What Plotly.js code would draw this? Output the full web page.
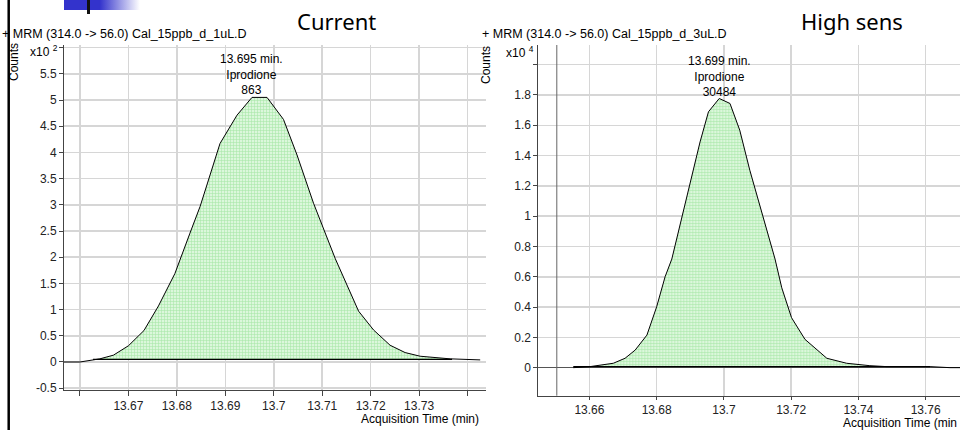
<!DOCTYPE html>
<html>
<head>
<meta charset="utf-8">
<script src="https://cdn.plot.ly/plotly-3.0.1.min.js"></script>
<style>html,body{margin:0;padding:0;background:#fff;}#chart{width:960px;height:430px;}</style>
</head>
<body>
<div id="chart"></div>
<script>
// ---- Data ----
// Left chromatogram ("Current"), counts in units of x10^2
var leftX = [13.6567, 13.6600, 13.6641, 13.6669, 13.6700, 13.6732, 13.6762, 13.6796, 13.6827, 13.6848, 13.6889, 13.6924, 13.6955, 13.6986, 13.7020, 13.7048, 13.7082, 13.7127, 13.7175, 13.7206, 13.7240, 13.7271, 13.7302, 13.7364, 13.7426];
var leftY = [0, 0, 0.06, 0.13, 0.31, 0.60, 1.07, 1.69, 2.46, 2.97, 4.17, 4.71, 5.05, 5.05, 4.63, 3.95, 3.03, 1.97, 0.97, 0.61, 0.32, 0.18, 0.11, 0.06, 0.04];
var leftBaseX = [13.6627, 13.7368];
var leftBaseY = 0.05;
// Right chromatogram ("High sens"), counts in units of x10^4
var rightX = [13.6552, 13.6602, 13.6671, 13.6706, 13.6736, 13.6771, 13.6800, 13.6825, 13.6845, 13.6875, 13.6929, 13.6954, 13.6986, 13.7018, 13.7047, 13.7077, 13.7117, 13.7152, 13.7172, 13.7201, 13.7241, 13.7306, 13.7365, 13.7434, 13.7484, 13.7613, 13.7672, 13.7702];
var rightY = [0, 0.007, 0.029, 0.062, 0.116, 0.215, 0.402, 0.600, 0.717, 0.996, 1.49, 1.689, 1.777, 1.744, 1.568, 1.303, 0.996, 0.717, 0.527, 0.330, 0.187, 0.062, 0.029, 0.013, 0.007, 0.007, 0, 0];
var rightBaseX = [13.6552, 13.7613];
var rightBaseY = 0.007;
var rightMarkerX = 13.6503;

// Tick values / labels
var leftXTicks = [13.66, 13.67, 13.68, 13.69, 13.70, 13.71, 13.72, 13.73, 13.74];
var leftXLabels = ['', '13.67', '13.68', '13.69', '13.7', '13.71', '13.72', '13.73', ''];
var leftYTicks = [-0.5, 0, 0.5, 1, 1.5, 2, 2.5, 3, 3.5, 4, 4.5, 5, 5.5, 6];
var leftYLabels = ['-0.5', '0', '0.5', '1', '1.5', '2', '2.5', '3', '3.5', '4', '4.5', '5', '5.5', ''];
var rightXTicks = [13.66, 13.68, 13.70, 13.72, 13.74, 13.76];
var rightXLabels = ['13.66', '13.68', '13.7', '13.72', '13.74', '13.76'];
var rightYTicks = [0, 0.2, 0.4, 0.6, 0.8, 1.0, 1.2, 1.4, 1.6, 1.8, 2.0];
var rightYLabels = ['0', '0.2', '0.4', '0.6', '0.8', '1', '1.2', '1.4', '1.6', '1.8', ''];

var leftHeader = '+ MRM (314.0 -> 56.0) Cal_15ppb_d_1uL.D';
var rightHeader = '+ MRM (314.0 -> 56.0) Cal_15ppb_d_3uL.D';
var leftTitle = 'Current';
var rightTitle = 'High sens';
var leftPeak = '13.695 min.<br>Iprodione<br>863';
var rightPeak = '13.699 min.<br>Iprodione<br>30484';
var xTitleLeft = 'Acquisition Time (min)';
var xTitleRight = 'Acquisition Time (min';

// ---- helpers ----
var W = 960, H = 430;
function px(x) { return x / W; }
function py(y) { return 1 - y / H; }
function fillPoly(xs, ys, bx, by) {
  var fx = [bx[0]], fy = [by];
  for (var i = 0; i < xs.length; i++) {
    if (xs[i] > bx[0] && xs[i] < bx[1]) { fx.push(xs[i]); fy.push(ys[i]); }
  }
  fx.push(bx[1]); fy.push(by);
  return {x: fx, y: fy};
}
var pat = {shape: '+', bgcolor: '#dbf7db', fgcolor: '#a9e6a9', size: 3, solidity: 0.35};
var lp = fillPoly(leftX, leftY, leftBaseX, leftBaseY);
var rp = fillPoly(rightX, rightY, rightBaseX, rightBaseY);

var traces = [
  {x: lp.x, y: lp.y, xaxis: 'x', yaxis: 'y', mode: 'none', fill: 'toself', fillcolor: '#dbf7db', fillpattern: pat, hoverinfo: 'skip', showlegend: false},
  {x: leftBaseX, y: [leftBaseY, leftBaseY], xaxis: 'x', yaxis: 'y', mode: 'lines', line: {color: '#000', width: 1.3}, showlegend: false},
  {x: leftX, y: leftY, xaxis: 'x', yaxis: 'y', mode: 'lines', line: {color: '#000', width: 1}, showlegend: false},
  {x: rp.x, y: rp.y, xaxis: 'x2', yaxis: 'y2', mode: 'none', fill: 'toself', fillcolor: '#dbf7db', fillpattern: pat, hoverinfo: 'skip', showlegend: false},
  {x: rightBaseX, y: [rightBaseY, rightBaseY], xaxis: 'x2', yaxis: 'y2', mode: 'lines', line: {color: '#000', width: 1.3}, showlegend: false},
  {x: rightX, y: rightY, xaxis: 'x2', yaxis: 'y2', mode: 'lines', line: {color: '#000', width: 1}, showlegend: false}
];

var tickFont = {family: 'Liberation Sans, Arial, sans-serif', size: 12, color: '#222'};
var axBase = {showline: true, linecolor: '#444', linewidth: 1, ticks: 'outside', ticklen: 4, tickcolor: '#444',
  showgrid: true, gridcolor: '#d6d6d6', gridwidth: 1.5, zeroline: false, tickfont: tickFont, fixedrange: true,
  tickmode: 'array', layer: 'below traces'};
function ax(o) { var r = {}; for (var k in axBase) r[k] = axBase[k]; for (var k2 in o) r[k2] = o[k2]; return r; }

var hdrFont = {family: 'Liberation Sans, Arial, sans-serif', size: 12.5, color: '#000'};
var titleFont = {family: 'Noto Sans, sans-serif', size: 22, color: '#000'};
var annFont = {family: 'Liberation Sans, Arial, sans-serif', size: 12, color: '#000'};

var layout = {
  width: W, height: H,
  margin: {l: 0, r: 0, t: 0, b: 0},
  paper_bgcolor: '#fff', plot_bgcolor: 'rgba(0,0,0,0)',
  showlegend: false,
  xaxis: ax({domain: [px(64), px(486)], range: [13.6567, 13.7438], tickvals: leftXTicks, ticktext: leftXLabels, anchor: 'y', ticklen: 5}),
  yaxis: ax({domain: [py(389.5), py(45)], range: [-0.525, 6.05], tickvals: leftYTicks, ticktext: leftYLabels, anchor: 'x'}),
  xaxis2: ax({domain: [px(538.3), 1], range: [13.6448, 13.7702], tickvals: rightXTicks, ticktext: rightXLabels, anchor: 'y2', ticklen: 3}),
  yaxis2: ax({domain: [py(395.7), py(45)], range: [-0.185, 2.13], tickvals: rightYTicks, ticktext: rightYLabels, anchor: 'x2', zeroline: true, zerolinecolor: '#555', zerolinewidth: 1}),
  shapes: [
    {type: 'line', xref: 'paper', yref: 'paper', x0: px(8.7), x1: px(8.7), y0: 0, y1: 1, line: {color: '#000', width: 2.5}},
    {type: 'rect', xref: 'paper', yref: 'paper', x0: px(87), x1: px(90), y0: py(14), y1: 1, fillcolor: '#111', line: {width: 0}, layer: 'above'},
    {type: 'line', xref: 'x2', yref: 'y2 domain', x0: rightMarkerX, x1: rightMarkerX, y0: 0, y1: 1, line: {color: '#666', width: 1}}
  ],
  images: [{
    source: 'data:image/svg+xml;charset=utf-8,' + encodeURIComponent("<svg xmlns='http://www.w3.org/2000/svg' width='76' height='10'><defs><linearGradient id='g' x1='0' y1='0' x2='1' y2='0'><stop offset='0.47' stop-color='#3333cc'/><stop offset='1' stop-color='#ffffff'/></linearGradient></defs><rect width='76' height='10' fill='url(#g)'/></svg>"),
    xref: 'paper', yref: 'paper', x: px(64), y: 1, sizex: px(76), sizey: 10 / H,
    xanchor: 'left', yanchor: 'top', sizing: 'stretch', layer: 'above'
  }],
  annotations: [
    {text: leftHeader, xref: 'paper', yref: 'paper', x: px(0), y: py(34), xanchor: 'left', yanchor: 'middle', showarrow: false, font: hdrFont},
    {text: rightHeader, xref: 'paper', yref: 'paper', x: px(480), y: py(34), xanchor: 'left', yanchor: 'middle', showarrow: false, font: hdrFont},
    {text: leftTitle, xref: 'paper', yref: 'paper', x: px(336), y: py(21), xanchor: 'center', yanchor: 'middle', showarrow: false, font: titleFont},
    {text: rightTitle, xref: 'paper', yref: 'paper', x: px(852), y: py(21), xanchor: 'center', yanchor: 'middle', showarrow: false, font: titleFont},
    {text: leftPeak, xref: 'paper', yref: 'paper', x: px(251), y: py(74), xanchor: 'center', yanchor: 'middle', showarrow: false, font: annFont},
    {text: rightPeak, xref: 'paper', yref: 'paper', x: px(719), y: py(76), xanchor: 'center', yanchor: 'middle', showarrow: false, font: annFont},
    {text: 'Counts', xref: 'paper', yref: 'paper', x: px(14), y: py(62), xanchor: 'center', yanchor: 'middle', textangle: -90, showarrow: false, font: annFont},
    {text: 'Counts', xref: 'paper', yref: 'paper', x: px(486), y: py(65), xanchor: 'center', yanchor: 'middle', textangle: -90, showarrow: false, font: annFont},
    {text: 'x10 <sup>2</sup>', xref: 'paper', yref: 'paper', x: px(60), y: py(51), xanchor: 'right', yanchor: 'middle', showarrow: false, font: annFont},
    {text: 'x10 <sup>4</sup>', xref: 'paper', yref: 'paper', x: px(536), y: py(52), xanchor: 'right', yanchor: 'middle', showarrow: false, font: annFont},
    {text: xTitleLeft, xref: 'paper', yref: 'paper', x: px(481), y: py(419), xanchor: 'right', yanchor: 'middle', showarrow: false, font: annFont},
    {text: xTitleRight, xref: 'paper', yref: 'paper', x: px(959), y: py(423), xanchor: 'right', yanchor: 'middle', showarrow: false, font: annFont}
  ]
};

Plotly.newPlot('chart', traces, layout, {staticPlot: true, displayModeBar: false});
</script>
</body>
</html>
